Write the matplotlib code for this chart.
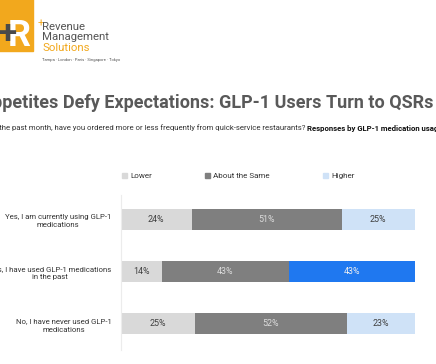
"""Stacked bar: QSR ordering frequency by GLP-1 medication usage."""

import matplotlib

matplotlib.use("Agg")
import matplotlib.pyplot as plt
from matplotlib.patches import Rectangle

plt.rcParams["font.family"] = ["Roboto", "DejaVu Sans"]

categories = [
    "Yes, I am currently using GLP-1\nmedications",
    "Yes, I have used GLP-1 medications\nin the past",
    "No, I have never used GLP-1\nmedications",
]
series_names = ["Lower", "About the Same", "Higher"]
lower = [24, 14, 25]
same = [51, 43, 52]
higher = [25, 43, 23]

title = "Appetites Defy Expectations: GLP-1 Users Turn to QSRs"
subtitle_plain = ("In the past month, have you ordered more or less frequently "
                  "from quick-service restaurants? ")
subtitle_bold = "Responses by GLP-1 medication usage"

C_LOWER = "#d9d9d9"
C_SAME = "#7f7f7f"
C_HIGHER = "#cfe2f7"
C_HIGHLIGHT = "#1f78f0"
ORANGE = "#f2a81d"

fig = plt.figure(figsize=(4.36, 3.64), dpi=100)
W, H = 436, 364


def fx(px):
    return px / W


def fy(py):
    return 1 - py / H


# logo block
fig.patches.append(Rectangle((fx(-2), fy(51)), fx(35), 53 / H,
                             transform=fig.transFigure, color=ORANGE, zorder=1))
fig.text(fx(19), fy(36), "R", color="white", fontsize=26, fontweight="bold",
         ha="center", va="center", zorder=2)
fig.text(fx(7), fy(34), "+", color="#4a4a4a", fontsize=24, fontweight="bold",
         ha="center", va="center", zorder=3)
fig.text(fx(41), fy(24), "+", color=ORANGE, fontsize=8, ha="center",
         va="center", zorder=1)
fig.text(fx(42), fy(27), "Revenue", color="#555555", fontsize=8.2,
         ha="left", va="center", zorder=2)
fig.text(fx(42), fy(37.5), "Management", color="#555555", fontsize=8.2,
         ha="left", va="center")
fig.text(fx(42), fy(48), "Solutions", color=ORANGE, fontsize=8.2,
         ha="left", va="center")
fig.text(fx(42), fy(60), "Tampa · London · Paris · Singapore · Tokyo",
         color="#555555", fontsize=3, ha="left", va="center")

# title and subtitle
fig.text(fx(-20), fy(103), title, color="#595959", fontsize=13.0,
         fontweight="bold", ha="left", va="center")
t = fig.text(fx(-9), fy(128), subtitle_plain, color="#333333", fontsize=5.55,
             ha="left", va="center")
fig.canvas.draw()
bb = t.get_window_extent()
fig.text(bb.x1 / W, fy(128), subtitle_bold, color="#111111", fontsize=5.55,
         fontweight="bold", ha="left", va="center")

ax = fig.add_axes([fx(121), fy(350), fx(415) - fx(121), (350 - 195) / H])

ys = list(range(len(categories)))
bar_h = 0.4
ax.barh(ys, lower, height=bar_h, color=C_LOWER)
ax.barh(ys, same, left=lower, height=bar_h, color=C_SAME)
left_hi = [a + b for a, b in zip(lower, same)]
hi_colors = [C_HIGHLIGHT if i == 1 else C_HIGHER for i in ys]
ax.barh(ys, higher, left=left_hi, height=bar_h, color=hi_colors)

for i in ys:
    ax.text(lower[i] / 2, i, f"{lower[i]}%", ha="center", va="center",
            fontsize=6.4, color="#404040")
    ax.text(lower[i] + same[i] / 2, i, f"{same[i]}%", ha="center",
            va="center", fontsize=6.4, color="#dcdcdc")
    ax.text(left_hi[i] + higher[i] / 2, i, f"{higher[i]}%", ha="center",
            va="center", fontsize=6.4,
            color="#f0f0f0" if i == 1 else "#404040")

ax.set_xlim(0, 100)
ax.set_ylim(2.5, -0.46)
ax.set_yticks(ys)
ax.set_yticklabels(categories, fontsize=5.6, color="#333333",
                   multialignment="center", linespacing=1.45)
ax.tick_params(axis="y", length=0, pad=7)
ax.set_xticks([])
for side in ("top", "right", "bottom"):
    ax.spines[side].set_visible(False)
ax.spines["left"].set_color("#ececec")
ax.spines["left"].set_linewidth(0.8)

handles = [Rectangle((0, 0), 1, 1, color=c) for c in (C_LOWER, C_SAME, C_HIGHER)]
fig.legend(handles, series_names, loc="center left",
           bbox_to_anchor=(fx(115), fy(176)), ncol=3, frameon=False,
           fontsize=5.8, handlelength=0.6, handleheight=0.6,
           handletextpad=0.4, columnspacing=6.6, labelcolor="#333333")

fig.savefig("out.png", dpi=100)
